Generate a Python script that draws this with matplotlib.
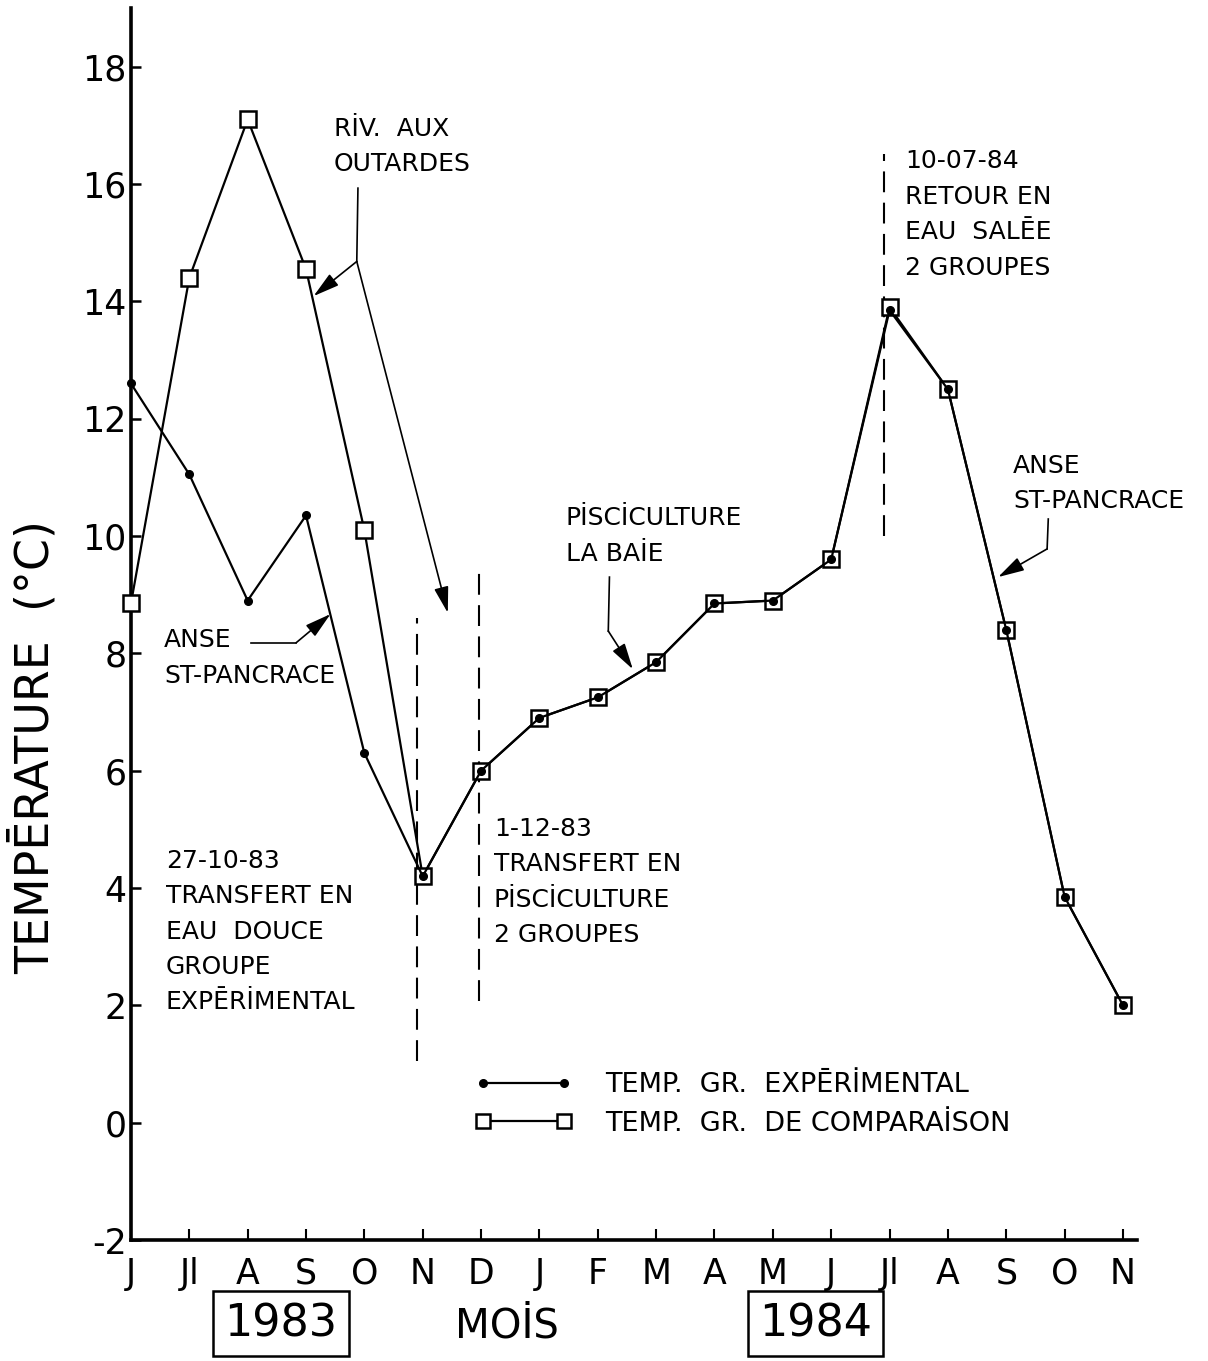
import matplotlib.pyplot as plt

# mois de juin 1983 a novembre 1984
mois = ["J", "Jl", "A", "S", "O", "N", "D", "J", "F", "M", "A", "M",
        "J", "Jl", "A", "S", "O", "N"]
temp_comparaison = [8.85, 14.4, 17.1, 14.55, 10.1, 4.2, 6.0, 6.9, 7.25, 7.85,
                    8.85, 8.9, 9.6, 13.9, 12.5, 8.4, 3.85, 2.0]
temp_experimental = [12.6, 11.05, 8.9, 10.35, 6.3, 4.2, 6.0, 6.9, 7.25, 7.85,
                     8.85, 8.9, 9.6, 13.85, 12.5, 8.4, 3.85, 2.0]
yticks = [-2, 0, 2, 4, 6, 8, 10, 12, 14, 16, 18]

# dates des transferts (position en mois, bas et haut du trait)
transfert_x = [4.9, 5.96, 12.91]
transfert_bas = [1.05, 2.08, 10.0]
transfert_haut = [8.6, 9.47, 16.52]

plain = ['DejaVu Sans']

fig = plt.figure(figsize=(12.08, 13.61), dpi=100)
ax = fig.add_axes([0.1084, 0.0889, 0.8328, 0.9052])

x = list(range(len(mois)))
ax.plot(x, temp_comparaison, color='black', lw=1.6, marker='s', ms=12,
        mfc='white', mec='black', mew=1.8, zorder=3, clip_on=False,
        label='TEMP.  GR.  DE COMPARAİSON')
ax.plot(x, temp_experimental, color='black', lw=1.6, marker='o', ms=5.5,
        mfc='black', mec='black', zorder=4, clip_on=False,
        label='TEMP.  GR.  EXPĒRİMENTAL')

for xx, b, h in zip(transfert_x, transfert_bas, transfert_haut):
    ax.plot([xx, xx], [b, h], color='black', lw=1.5, ls=(0, (10, 5)))

ax.set_xlim(0, 17.24)
ax.set_ylim(-2, 19)
ax.set_xticks(x)
ax.set_xticklabels(mois, family=plain, fontsize=25)
ax.set_yticks(yticks)
ax.set_yticklabels([str(v) for v in yticks], family=plain, fontsize=25)
ax.tick_params(axis='x', direction='in', length=8, width=1.5, pad=12)
ax.tick_params(axis='y', direction='in', length=7, width=1.8, pad=3)
for s in ['top', 'right']:
    ax.spines[s].set_visible(False)
for s in ['left', 'bottom']:
    ax.spines[s].set_linewidth(2.6)

ax.set_ylabel('TEMPĒRATURE  (°C)', family=plain, fontsize=33)
ax.yaxis.set_label_coords(-0.072, 0.40)

# annotations
kw = dict(family=plain, fontsize=18, ha='left', va='top', linespacing=1.6)
ax.text(3.48, 17.15, 'RİV.  AUX\nOUTARDES', **kw)
ax.text(0.57, 8.43, 'ANSE\nST-PANCRACE', **kw)
ax.text(7.45, 10.51, 'PİSCİCULTURE\nLA BAİE', **kw)
ax.text(13.27, 16.59, '10-07-84\nRETOUR EN\nEAU  SALĒE\n2 GROUPES', **kw)
ax.text(15.12, 11.40, 'ANSE\nST-PANCRACE', **kw)
ax.text(0.60, 4.67, '27-10-83\nTRANSFERT EN\nEAU  DOUCE\nGROUPE\nEXPĒRİMENTAL', **kw)
ax.text(6.22, 5.21, '1-12-83\nTRANSFERT EN\nPİSCİCULTURE\n2 GROUPES', **kw)

arrow = dict(arrowstyle='-|>,head_length=0.8,head_width=0.22', color='black',
             lw=1.2, mutation_scale=20, shrinkA=0, shrinkB=0)
# riv. aux outardes
ax.plot([3.89, 3.87], [15.93, 14.68], color='black', lw=1.2)
ax.annotate('', xy=(3.13, 14.09), xytext=(3.87, 14.68), arrowprops=arrow)
ax.annotate('', xy=(5.43, 8.69), xytext=(3.87, 14.68), arrowprops=arrow)
# anse st-pancrace (gauche)
ax.plot([2.05, 2.83], [8.18, 8.18], color='black', lw=1.2)
ax.annotate('', xy=(3.42, 8.67), xytext=(2.83, 8.18), arrowprops=arrow)
# pisciculture
ax.plot([8.20, 8.18], [9.30, 8.38], color='black', lw=1.2)
ax.annotate('', xy=(8.60, 7.73), xytext=(8.18, 8.38), arrowprops=arrow)
# anse st-pancrace (droite)
ax.plot([15.72, 15.70], [10.29, 9.78], color='black', lw=1.2)
ax.annotate('', xy=(14.86, 9.30), xytext=(15.70, 9.78), arrowprops=arrow)

leg = ax.legend(handles=ax.get_lines()[1::-1], loc='upper left',
                bbox_to_anchor=(0.342, 0.136), frameon=False, numpoints=2,
                handlelength=3.6, handletextpad=1.2, labelspacing=0.45,
                borderpad=0, borderaxespad=0,
                prop={'family': plain, 'size': 19.5})
for h in leg.legend_handles:
    if h.get_marker() == 's':
        h.set_markersize(10)

tr = ax.get_xaxis_transform()
box = dict(boxstyle='square,pad=0.25', fc='white', ec='black', lw=1.8)
ax.text(2.57, -0.068, '1983', transform=tr, ha='center', va='center',
        family=plain, fontsize=32, bbox=box, clip_on=False)
ax.text(11.73, -0.068, '1984', transform=tr, ha='center', va='center',
        family=plain, fontsize=32, bbox=box, clip_on=False)
ax.text(6.44, -0.070, 'MOİS', transform=tr, ha='center', va='center',
        family=plain, fontsize=29, clip_on=False)

fig.savefig('out.png', dpi=100)
